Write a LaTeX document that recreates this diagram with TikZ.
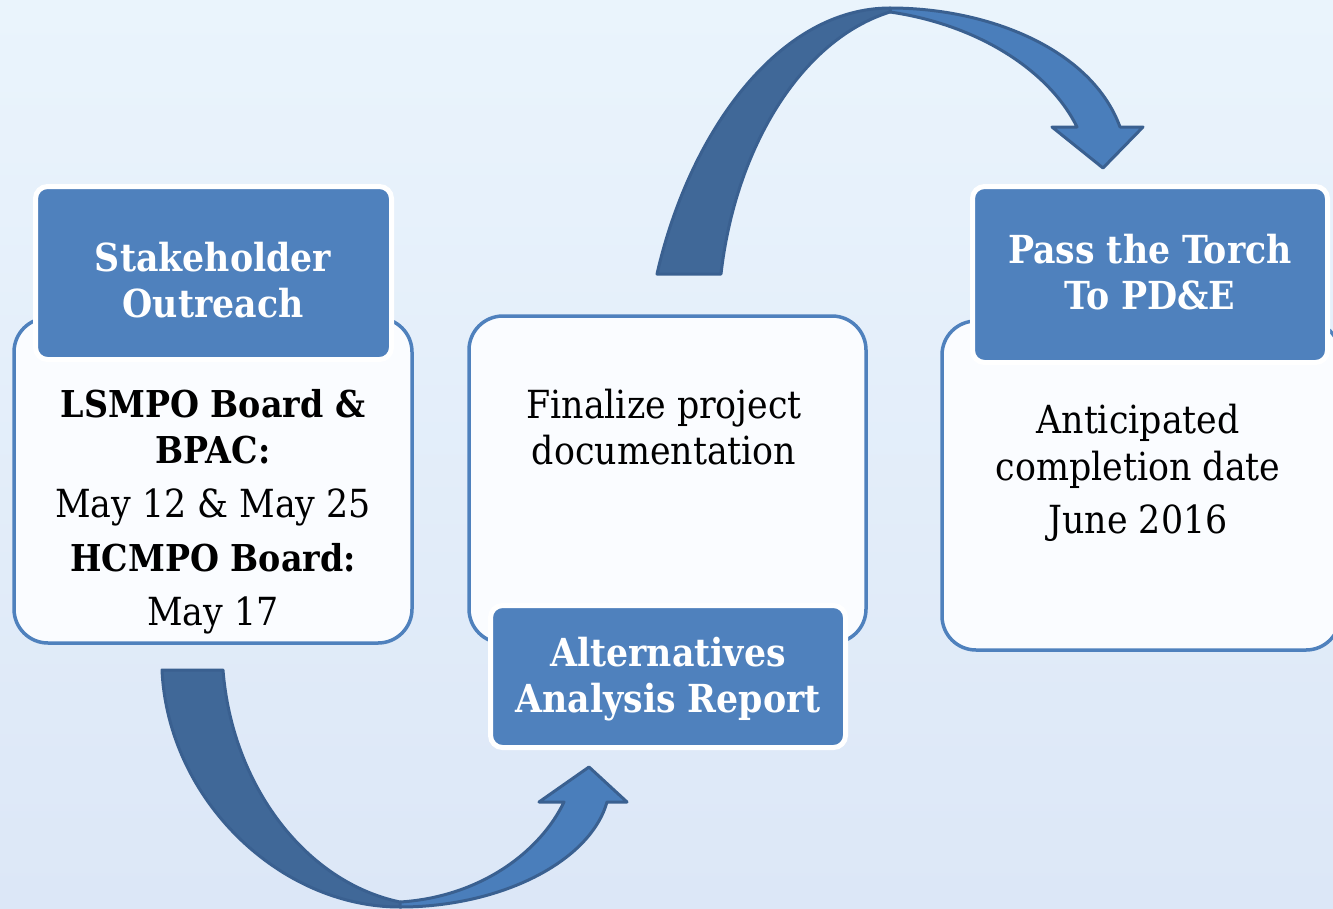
\documentclass[tikz,border=0pt]{standalone}
\usepackage{fontspec}
\setmainfont{DejaVu Serif Condensed}
\begin{document}
\begin{tikzpicture}[x=1pt,y=-1pt,
  bodybox/.style={draw=boxblue,line width=3.5pt,fill=bodywhite,rounded corners=34pt,
    minimum width=#1,inner sep=0pt},
  headbox/.style={draw=white,line width=5pt,fill=headblue,rounded corners=12pt,inner sep=0pt},
  headtext/.style={anchor=north,inner sep=0pt,align=center,text=white,
    font=\fontsize{38.6}{46}\selectfont\bfseries},
  bodytext/.style={anchor=north,inner sep=0pt,align=center,text=black,
    font=\fontsize{38.7}{46}\selectfont},
  boldline/.style={font=\fontsize{37}{46}\selectfont\bfseries},
  arrowdark/.style={fill=arrowdarkfill,draw=arrowline,line width=3pt,line join=round},
  arrowlight/.style={fill=arrowlightfill,draw=arrowline,line width=3pt,line join=round}]
\definecolor{boxblue}{HTML}{4F81BD}
\definecolor{headblue}{HTML}{4F81BD}
\definecolor{bodywhite}{HTML}{FAFCFF}
\definecolor{arrowdarkfill}{HTML}{406898}
\definecolor{arrowlightfill}{HTML}{4A7EBB}
\definecolor{arrowline}{HTML}{3A6090}
\definecolor{bgtop}{HTML}{EAF4FC}
\definecolor{bgbottom}{HTML}{DCE7F7}
\newcommand{\firstline}{\rule{0pt}{30pt}}
\newcommand{\boldbody}{\fontsize{37}{46}\selectfont\bfseries}

% background
\shade[top color=bgtop,bottom color=bgbottom] (0,0) rectangle (1333,908);
\useasboundingbox (0,0) rectangle (1333,908);

% boxes
\node[bodybox=398pt,minimum height=325pt] (body1) at (213,480.5) {};
\node[bodybox=397pt,minimum height=327pt] (body2) at (667.5,479.5) {};
\node[bodybox=398pt,minimum height=329pt] (body3) at (1141,485.5) {};
\node[headbox,minimum width=356pt,minimum height=173pt] (head1) at (213.5,273) {};
\node[headbox,minimum width=355pt,minimum height=142pt] (head2) at (668,676.5) {};
\node[headbox,minimum width=355pt,minimum height=176pt] (head3) at (1150,274.5) {};

% texts
\node[headtext] (t1) at (213,241) {\firstline Stakeholder\\Outreach};
\node[headtext] (t2) at (668,636) {\firstline Alternatives\\Analysis Report};
\node[headtext] (t3) at (1150,233) {\firstline Pass the Torch\\To PD\&E};
\node[bodytext] (b1) at (213,387) {\firstline\boldbody LSMPO Board \&\\\boldbody BPAC:\\[8pt]
  May 12 \& May 25\\[8pt]\boldbody HCMPO Board:\\[8pt] May 17};
\node[bodytext] (b2) at (664,388) {\firstline Finalize project\\documentation};
\node[bodytext] (b3) at (1138,403) {\firstline Anticipated\\[1pt]completion date\\[7pt]June 2016};

% curved arrow from the first box to the second
\coordinate (a1tl) at (162,670);
\coordinate (a1tr) at (223,670);
\coordinate (a1lo) at (400,907);
\coordinate (a1li) at (400,902);
\coordinate (a1hr) at (607,802);
\coordinate (a1hl) at (564,802);
\fill[arrowlightfill] (a1lo) .. controls (500,907) and (590,862) .. (a1hr)
  -- (627,802) -- (589,767) -- (539,802) -- (a1hl)
  .. controls (540,852) and (480,897) .. (a1li) -- cycle;
\draw[arrowlight] (a1lo) .. controls (500,907) and (590,862) .. (a1hr)
  -- (627,802) -- (589,767) -- (539,802) -- (a1hl)
  .. controls (540,852) and (480,897) .. (a1li);
\draw[arrowdark] (a1tl) .. controls (168,800) and (280,907) .. (a1lo)
  -- (a1li) .. controls (305,882) and (232,785) .. (a1tr) -- cycle;

% curved arrow from the second box to the third
\coordinate (a2tl) at (657,274);
\coordinate (a2tr) at (721,274);
\coordinate (a2to) at (890,8);
\coordinate (a2ti) at (890,12);
\coordinate (a2hr) at (1120,127);
\coordinate (a2hl) at (1077,127);
\draw[arrowlight] (a2to) .. controls (990,8) and (1092,50) .. (a2hr)
  -- (1143,127) -- (1103,168) -- (1052,127) -- (a2hl)
  .. controls (1050,72) and (980,25) .. (a2ti) -- cycle;
\draw[arrowdark] (a2tl) .. controls (690,130) and (780,8) .. (a2to)
  -- (a2ti) .. controls (800,40) and (735,150) .. (a2tr) -- cycle;
\end{tikzpicture}
\end{document}
